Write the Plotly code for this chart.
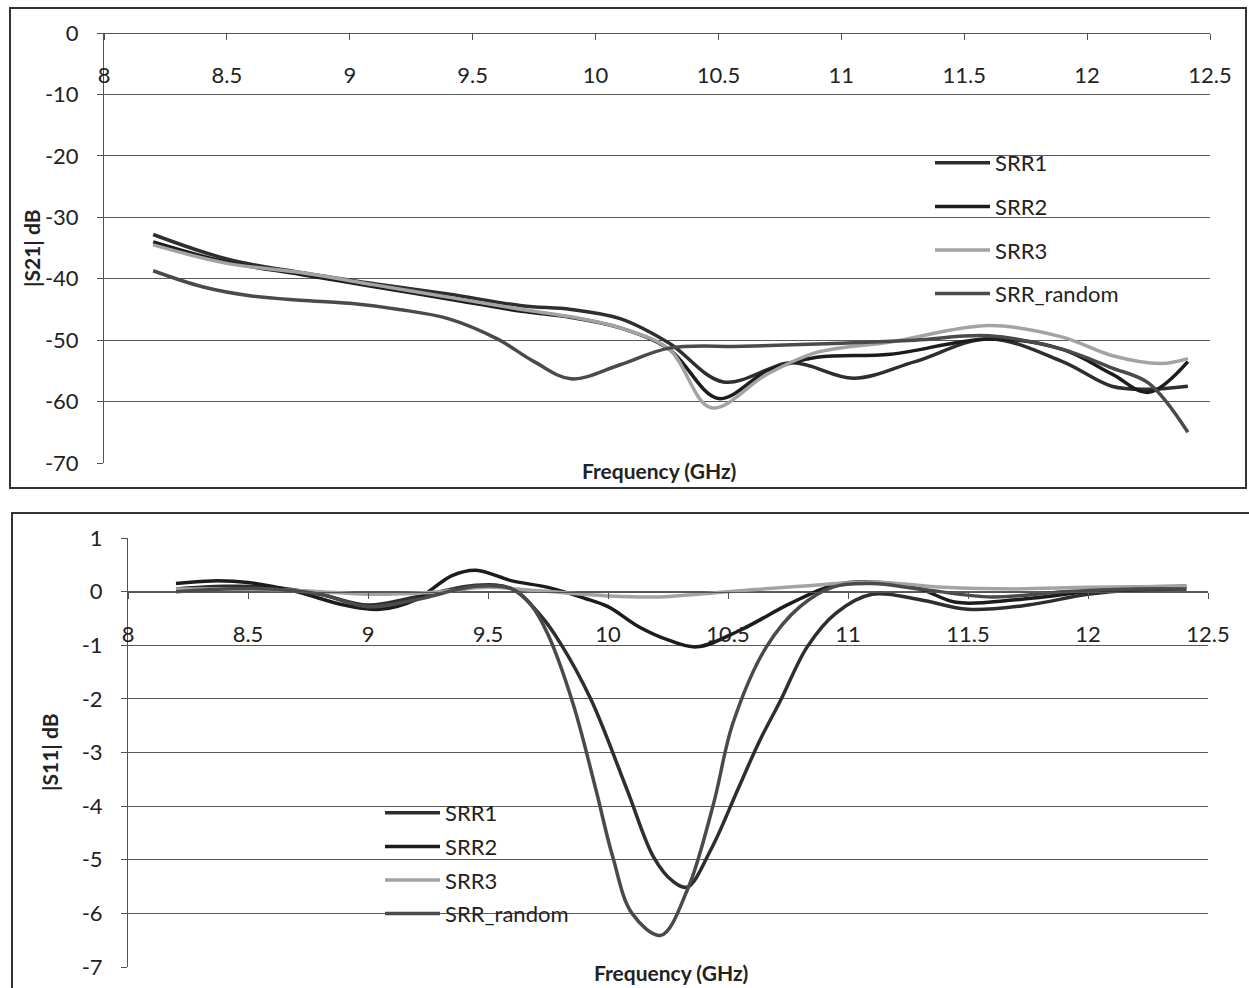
import plotly.graph_objects as go

W, H = 1249, 988

# ---------------- data: |S21| (top panel) ----------------
s21_srr1_f = [8.2, 8.5, 8.8, 9.1, 9.4, 9.7, 9.9, 10.1, 10.3, 10.52, 10.8, 11.05, 11.3, 11.6, 11.9, 12.1, 12.25, 12.41]
s21_srr1_v = [-32.8, -36.8, -39.0, -40.8, -42.5, -44.4, -45.0, -46.5, -50.5, -56.8, -53.7, -56.2, -53.5, -49.8, -53.5, -57.5, -58.0, -57.5]

s21_srr2_f = [8.2, 8.5, 8.8, 9.1, 9.4, 9.7, 9.9, 10.1, 10.3, 10.5, 10.7, 10.9, 11.2, 11.6, 11.9, 12.1, 12.25, 12.41]
s21_srr2_v = [-34.0, -37.3, -39.3, -41.3, -43.3, -45.3, -46.3, -48.0, -51.5, -59.5, -55.0, -52.8, -52.3, -49.8, -51.5, -55.5, -58.5, -53.5]

s21_srr3_f = [8.2, 8.5, 8.8, 9.1, 9.4, 9.7, 9.9, 10.1, 10.3, 10.47, 10.7, 10.9, 11.2, 11.6, 11.9, 12.1, 12.3, 12.41]
s21_srr3_v = [-34.5, -37.5, -39.0, -41.0, -43.0, -45.0, -46.2, -48.0, -51.5, -61.0, -55.5, -52.0, -50.3, -47.6, -49.5, -52.5, -53.8, -53.0]

s21_rand_f = [8.2, 8.4, 8.6, 8.8, 9.0, 9.2, 9.4, 9.6, 9.75, 9.9, 10.1, 10.3, 10.6, 11.0, 11.3, 11.6, 11.9, 12.1, 12.25, 12.41]
s21_rand_v = [-38.7, -41.3, -42.8, -43.5, -44.0, -45.0, -46.5, -49.8, -53.5, -56.3, -54.0, -51.3, -51.0, -50.5, -50.0, -49.3, -51.5, -54.5, -57.0, -65.0]

# ---------------- data: |S11| (bottom panel) ----------------
s11_srr1_f = [8.2, 8.4, 8.6, 8.8, 9.0, 9.2, 9.45, 9.6, 9.72, 9.8, 9.93, 10.08, 10.19, 10.27, 10.33, 10.43, 10.54, 10.63, 10.72, 10.83, 10.95, 11.1, 11.3, 11.5, 11.75, 12.0, 12.2, 12.41]
s11_srr1_v = [0.05, 0.1, 0.08, -0.05, -0.25, -0.1, 0.12, 0.05, -0.45, -0.95, -2.02, -3.7, -4.95, -5.4, -5.51, -4.8, -3.7, -2.8, -2.02, -1.03, -0.4, -0.05, -0.15, -0.33, -0.25, -0.05, 0.03, 0.05]

s11_srr2_f = [8.2, 8.35, 8.5, 8.7, 8.9, 9.05, 9.2, 9.35, 9.45, 9.6, 9.75, 9.9, 10.0, 10.13, 10.25, 10.37, 10.55, 10.76, 10.94, 11.1, 11.3, 11.45, 11.7, 12.0, 12.2, 12.41]
s11_srr2_v = [0.15, 0.2, 0.17, 0.0, -0.25, -0.33, -0.15, 0.3, 0.4, 0.2, 0.08, -0.12, -0.28, -0.66, -0.9, -1.03, -0.72, -0.22, 0.12, 0.18, 0.05, -0.2, -0.15, 0.0, 0.08, 0.1]

s11_srr3_f = [8.2, 8.5, 8.8, 9.0, 9.3, 9.5, 9.7, 10.0, 10.2, 10.5, 10.8, 11.1, 11.4, 11.7, 12.0, 12.41]
s11_srr3_v = [0.05, 0.05, 0.0, -0.05, 0.0, 0.08, 0.02, -0.08, -0.1, 0.0, 0.1, 0.18, 0.08, 0.05, 0.08, 0.1]

s11_rand_f = [8.2, 8.4, 8.6, 8.8, 9.0, 9.2, 9.45, 9.6, 9.68, 9.75, 9.855, 9.95, 10.02, 10.1, 10.22, 10.33, 10.44, 10.52, 10.66, 10.8, 10.94, 11.1, 11.3, 11.6, 11.9, 12.2, 12.41]
s11_rand_v = [0.0, 0.05, 0.05, -0.05, -0.28, -0.15, 0.1, 0.05, -0.25, -0.8, -2.1, -3.7, -4.95, -6.0, -6.41, -5.57, -3.95, -2.46, -1.03, -0.28, 0.09, 0.15, 0.05, -0.1, 0.0, 0.05, 0.05]

series_names = ["SRR1", "SRR2", "SRR3", "SRR_random"]
x_ticks = [8, 8.5, 9, 9.5, 10, 10.5, 11, 11.5, 12, 12.5]
x_tick_text = ["8", "8.5", "9", "9.5", "10", "10.5", "11", "11.5", "12", "12.5"]
s21_ticks = [0, -10, -20, -30, -40, -50, -60, -70]
s21_tick_text = ["0", "-10", "-20", "-30", "-40", "-50", "-60", "-70"]
s11_ticks = [1, 0, -1, -2, -3, -4, -5, -6, -7]
s11_tick_text = ["1", "0", "-1", "-2", "-3", "-4", "-5", "-6", "-7"]

colors = ["#2e2e2e", "#1c1c1c", "#a3a3a3", "#4a4a4a"]
FONT = "Lato"

def px_x(p):
    return p / W

def px_y(p):
    return 1 - p / H

fig = go.Figure()

top_data = [(s21_srr1_f, s21_srr1_v), (s21_srr2_f, s21_srr2_v), (s21_srr3_f, s21_srr3_v), (s21_rand_f, s21_rand_v)]
bot_data = [(s11_srr1_f, s11_srr1_v), (s11_srr2_f, s11_srr2_v), (s11_srr3_f, s11_srr3_v), (s11_rand_f, s11_rand_v)]

for i, (f, v) in enumerate(top_data):
    fig.add_trace(go.Scatter(x=f, y=v, mode="lines", name=series_names[i],
                             line=dict(color=colors[i], width=3.5, shape="spline", smoothing=1.0),
                             xaxis="x", yaxis="y", legend="legend", legendgroup="t%d" % i))
for i, (f, v) in enumerate(bot_data):
    fig.add_trace(go.Scatter(x=f, y=v, mode="lines", name=series_names[i],
                             line=dict(color=colors[i], width=3.5, shape="spline", smoothing=1.0),
                             xaxis="x2", yaxis="y2", legend="legend2", legendgroup="b%d" % i))

# pixel geometry
top_x0, top_x1 = 104, 1210
top_y_top, top_y_bot = 33, 463
bot_x0, bot_x1 = 128, 1208
bot_y_top, bot_y_bot = 538, 967
bot_zero = bot_y_bot - (0 - (-7)) / 8 * (bot_y_bot - bot_y_top)

tickfont = dict(family=FONT, size=22, color="#222")
grid_col = "#5a5a5a"

common_x = dict(range=[8, 12.5], tickvals=x_ticks, ticktext=x_tick_text, showgrid=False,
                zeroline=False, showline=True, linecolor="#555", linewidth=1,
                ticks="outside", ticklen=6, tickcolor="#555", tickfont=tickfont,
                ticklabelstandoff=17, side="bottom", anchor="free", automargin=False)
common_y = dict(showgrid=True, gridcolor=grid_col, gridwidth=1, zeroline=False,
                showline=True, linecolor="#555", linewidth=1, ticks="outside", ticklen=6,
                tickcolor="#555", tickfont=tickfont, ticklabelstandoff=14, automargin=False)

fig.update_layout(
    width=W, height=H, margin=dict(l=0, r=0, t=0, b=0, autoexpand=False),
    paper_bgcolor="white", plot_bgcolor="white",
    font=dict(family=FONT, size=22, color="#222"),
    xaxis=dict(domain=[px_x(top_x0), px_x(top_x1)], position=px_y(top_y_top), **common_x),
    yaxis=dict(domain=[px_y(top_y_bot), px_y(top_y_top)], range=[-70, 0], tickvals=s21_ticks,
               ticktext=s21_tick_text, anchor="x", **common_y),
    xaxis2=dict(domain=[px_x(bot_x0), px_x(bot_x1)], position=px_y(bot_zero), **common_x),
    yaxis2=dict(domain=[px_y(bot_y_bot), px_y(bot_y_top)], range=[-7, 1], tickvals=s11_ticks,
                ticktext=s11_tick_text, anchor="x2", **common_y),
    legend=dict(x=px_x(930), y=px_y(142), xanchor="left", yanchor="top",
                bgcolor="rgba(0,0,0,0)", font=dict(family=FONT, size=22, color="#222"),
                tracegroupgap=12, traceorder="grouped", itemwidth=55),
    legend2=dict(x=px_x(380), y=px_y(792), xanchor="left", yanchor="top",
                 bgcolor="rgba(0,0,0,0)", font=dict(family=FONT, size=22, color="#222"),
                 tracegroupgap=2, traceorder="grouped", itemwidth=55),
    showlegend=True,
)

# axis titles (as annotations for precise placement)
title_font = dict(family=FONT, size=21, color="#222")
fig.add_annotation(text="<b>|S21| dB</b>", x=px_x(32), y=px_y(248), xref="paper", yref="paper",
                   xanchor="center", yanchor="middle", textangle=-90, showarrow=False, font=title_font)
fig.add_annotation(text="<b>|S11| dB</b>", x=px_x(49), y=px_y(752), xref="paper", yref="paper",
                   xanchor="center", yanchor="middle", textangle=-90, showarrow=False, font=title_font)
fig.add_annotation(text="<b>Frequency (GHz)</b>", x=px_x(659), y=px_y(470), xref="paper", yref="paper",
                   xanchor="center", yanchor="middle", showarrow=False, font=title_font)
fig.add_annotation(text="<b>Frequency (GHz)</b>", x=px_x(671), y=px_y(972), xref="paper", yref="paper",
                   xanchor="center", yanchor="middle", showarrow=False, font=title_font)

# panel frames
fig.add_shape(type="rect", xref="paper", yref="paper", x0=px_x(10), x1=px_x(1246),
              y0=px_y(488), y1=px_y(8), line=dict(color="#333", width=2))
fig.add_shape(type="rect", xref="paper", yref="paper", x0=px_x(12), x1=1.02,
              y0=-0.02, y1=px_y(513), line=dict(color="#333", width=2))

fig.write_html("out.html")
